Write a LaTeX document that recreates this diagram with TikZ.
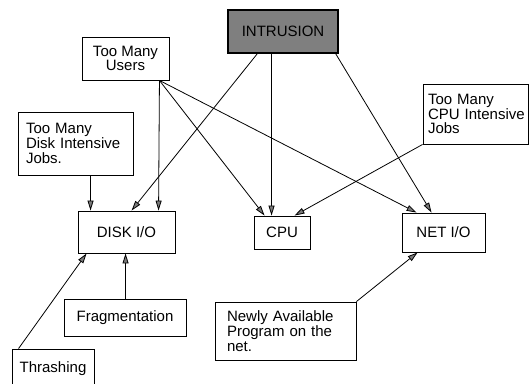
\documentclass[tikz,border=0pt]{standalone}
\usepackage{fontspec}
\setmainfont{Liberation Sans}
\usetikzlibrary{arrows.meta}
\definecolor{boxgray}{HTML}{7F7F7F}
\definecolor{tipgray}{HTML}{7A7A7A}
\begin{document}
\begin{tikzpicture}[x=1pt,y=-1pt,
  box/.style={draw, line width=0.9pt, inner sep=0pt, align=center,
    font=\fontsize{15}{14.8}\selectfont},
  lbox/.style={box, align=left},
  conn/.style={line width=0.8pt, -{Triangle[length=10pt,width=6pt,fill=tipgray]}}]
\useasboundingbox (0,0) rectangle (529,383);

\node[box, fill=boxgray, line width=1.2pt, minimum width=110pt, minimum height=43pt] (intr) at (283,31.5) {INTRUSION};
\node[box, minimum width=87pt, minimum height=43pt] (users) at (125.5,58.5) {Too Many\\Users};
\node[lbox, text width=99pt, inner xsep=8pt, minimum height=63pt] (djobs) at (75.5,143.5) {\mbox{Too Many}\\\mbox{Disk Intensive}\\\mbox{Jobs.}};
\node[lbox, text width=95pt, inner xsep=5pt, minimum height=60pt] (cjobs) at (475.5,114) {\mbox{Too Many}\\\mbox{CPU Intensive}\\\mbox{Jobs}};
\node[box, minimum width=97pt, minimum height=42pt] (disk) at (126.5,232) {DISK I/O};
\node[box, minimum width=56pt, minimum height=33pt] (cpu) at (282,232.5) {CPU};
\node[box, minimum width=83pt, minimum height=39pt] (net) at (443.5,232.5) {NET I/O};
\node[box, minimum width=122pt, minimum height=37pt] (frag) at (125,317.5) {Fragmentation};
\node[box, minimum width=82pt, minimum height=39pt] (thr) at (53,368.5) {Thrashing};
\node[lbox, text width=117pt, inner xsep=12pt, minimum height=58pt] (newly) at (285.5,331) {\mbox{Newly Available}\\\mbox{Program on the}\\\mbox{net.}};

\draw[conn] ([xshift=30pt]intr.south west) -- ([xshift=54pt]disk.north west);
\draw[conn] ([xshift=44pt]intr.south west) -- ([xshift=18pt]cpu.north west);
\draw[conn] ([xshift=-3pt]intr.south east) -- ([xshift=30pt]net.north west);
\draw[conn] ([xshift=-10pt]users.south east) -- ([xshift=81pt]disk.north west);
\draw[conn] ([xshift=-10pt]users.south east) -- ([xshift=11pt]cpu.north west);
\draw[conn] ([xshift=-10pt]users.south east) -- ([xshift=15pt]net.north west);
\draw[conn] ([xshift=73pt]djobs.south west) -- ([xshift=13pt]disk.north west);
\draw[conn] (cjobs.south west) -- ([xshift=41pt]cpu.north west);
\draw[conn] ([xshift=7pt]thr.north west) -- ([xshift=9pt]disk.south west);
\draw[conn] ([xshift=62pt]frag.north west) -- ([xshift=48pt]disk.south west);
\draw[conn] (newly.north east) -- ([xshift=16pt]net.south west);
\end{tikzpicture}
\end{document}
